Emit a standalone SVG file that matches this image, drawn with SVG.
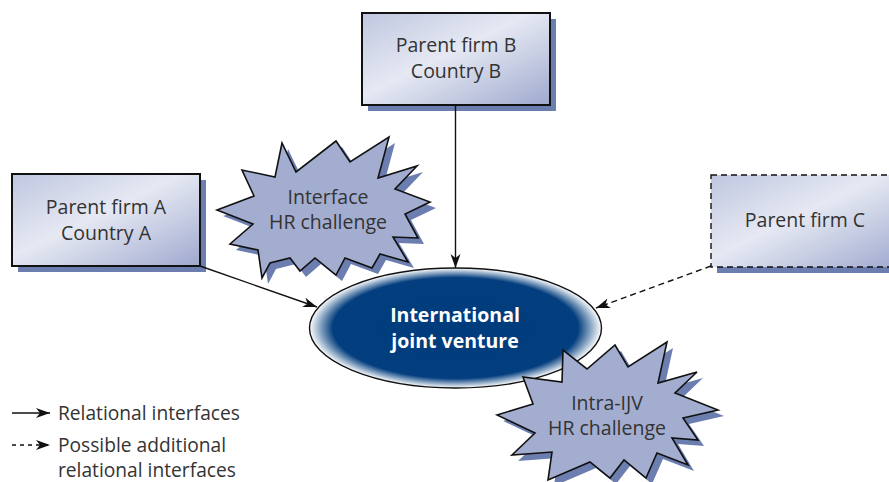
<svg xmlns="http://www.w3.org/2000/svg" xmlns:xlink="http://www.w3.org/1999/xlink" width="889" height="482" viewBox="0 0 889 482">
<style>
.box{stroke:#111;stroke-width:2;fill:url(#boxg)}
.shadow{fill:#6c7eb0}
.lbl{font-family:"Open Sans","Noto Sans",sans-serif;font-size:19.5px;fill:#333;text-anchor:middle}
.leg{font-family:"Open Sans","Noto Sans",sans-serif;font-size:19.2px;fill:#333}
.ijv{font-family:"Open Sans","Noto Sans",sans-serif;font-size:19.5px;font-weight:bold;fill:#fff;text-anchor:middle}
.burst{fill:#a3add0;stroke:#111;stroke-width:1.6;stroke-linejoin:miter}
.conn{stroke:#111;stroke-width:1.4;fill:none}
.dash{stroke-dasharray:6 4}
</style>
<defs>
<linearGradient id="boxg" x1="0" y1="0" x2="1" y2="1">
<stop offset="0" stop-color="#bfc6df"/>
<stop offset="0.45" stop-color="#e6e9f3"/>
<stop offset="1" stop-color="#9fa9ce"/>
</linearGradient>
<radialGradient id="ellg" cx="0.5" cy="0.5" r="0.5">
<stop offset="0" stop-color="#003b7c"/>
<stop offset="0.84" stop-color="#033e7f"/>
<stop offset="1" stop-color="#ffffff"/>
</radialGradient>
<marker id="ah" markerUnits="userSpaceOnUse" markerWidth="16" markerHeight="12" refX="14" refY="5" orient="auto">
<path d="M0,0 L14,5 L0,10 L4,5 z" fill="#111"/>
</marker>
<polygon id="b1" points="217,210 254,196 242,170 275,177 282,143 296,172 336,141 350,162 389,137 378,178 417,166 395,189 430,202 405,214 418,238 393,237 408,262 380,254 372,268 345,258 336,275 315,258 300,271 290,258 270,263 262,278 258,250 230,244 253,224"/>
<polygon id="b2" points="497,415 533,404 523,377 562,382 563,350 587,369 615,345 628,367 667,342 658,383 697,372 675,393 718,410 683,418 698,440 672,438 688,465 657,453 646,478 624,460 610,478 590,462 548,480 552,452 512,455 535,433"/>
</defs>

<g id="node-parent-b">
<rect class="shadow" x="368" y="19" width="188" height="92"/>
<rect class="box" x="362" y="13" width="188" height="92"/>
<text class="lbl" x="456" y="52">Parent firm B</text>
<text class="lbl" x="456" y="78">Country B</text>
</g>

<g id="node-parent-a">
<rect class="shadow" x="18" y="180" width="188" height="92"/>
<rect class="box" x="12" y="174" width="188" height="92"/>
<text class="lbl" x="106" y="214">Parent firm A</text>
<text class="lbl" x="106" y="240">Country A</text>
</g>

<g id="node-parent-c">
<rect class="shadow" x="717" y="181" width="180" height="92"/>
<rect class="box dash" x="711" y="175" width="190" height="92" style="stroke-width:1.4"/>
<text class="lbl" x="805" y="227">Parent firm C</text>
</g>

<g id="connectors">
<line class="conn" x1="200" y1="266" x2="317" y2="307" marker-end="url(#ah)"/>
<line class="conn" x1="455.5" y1="105" x2="455.5" y2="268" marker-end="url(#ah)"/>
<line class="conn dash" x1="711" y1="266" x2="596" y2="308" marker-end="url(#ah)"/>
</g>

<g id="node-ijv">
<ellipse cx="455.5" cy="328" rx="146" ry="60" fill="url(#ellg)" stroke="#111" stroke-width="1.4"/>
<text class="ijv" x="455" y="322">International</text>
<text class="ijv" x="455" y="348">joint venture</text>
</g>

<g id="node-interface-hr">
<use xlink:href="#b1" class="shadow" transform="translate(6,6)"/>
<use xlink:href="#b1" class="burst"/>
<text class="lbl" x="328" y="204">Interface</text>
<text class="lbl" x="328" y="229">HR challenge</text>
</g>

<g id="node-intra-hr">
<use xlink:href="#b2" class="shadow" transform="translate(6,6)"/>
<use xlink:href="#b2" class="burst"/>
<text class="lbl" x="607" y="410">Intra-IJV</text>
<text class="lbl" x="607" y="435">HR challenge</text>
</g>

<g id="legend">
<line class="conn" x1="12" y1="413" x2="50" y2="413" marker-end="url(#ah)"/>
<line class="conn dash" x1="12" y1="445" x2="50" y2="445" marker-end="url(#ah)" style="stroke-dasharray:4 4"/>
<text class="leg" x="58" y="420">Relational interfaces</text>
<text class="leg" x="58" y="452">Possible additional</text>
<text class="leg" x="58" y="477">relational interfaces</text>
</g>
</svg>
